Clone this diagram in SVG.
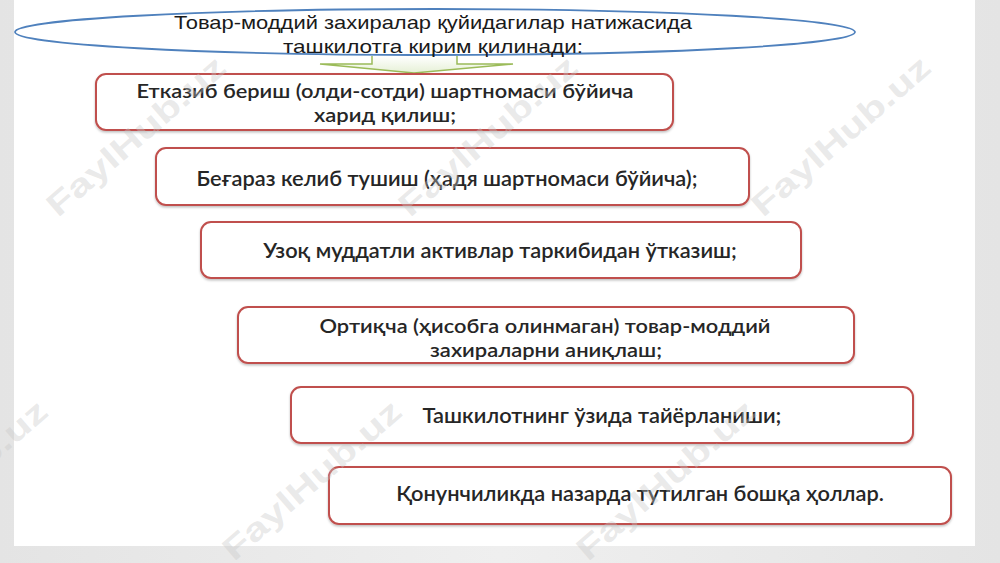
<svg xmlns="http://www.w3.org/2000/svg" width="1000" height="563" viewBox="0 0 1000 563">
<defs>
<linearGradient id="bg" x1="0" y1="0" x2="1" y2="0">
<stop offset="0" stop-color="#e4e4e4"/>
<stop offset="0.5" stop-color="#efefef"/>
<stop offset="1" stop-color="#e4e4e4"/>
</linearGradient>
<linearGradient id="arr" x1="0" y1="0" x2="0" y2="1">
<stop offset="0" stop-color="#ffffff"/>
<stop offset="1" stop-color="#e6f0d6"/>
</linearGradient>
<filter id="sh" x="-5%" y="-20%" width="110%" height="150%">
<feDropShadow dx="0" dy="1.5" stdDeviation="1.2" flood-color="#000" flood-opacity="0.25"/>
</filter>
</defs>
<style>
.box{fill:#ffffff;stroke:#c0504d;stroke-width:2;filter:url(#sh)}
.t{font-family:Lato,"Open Sans",sans-serif;font-size:21.8px;font-weight:600;fill:#262626;text-anchor:middle}
.t2{font-size:19.8px}
.e{font-family:"Liberation Sans",sans-serif;font-size:19px;fill:#1a1a1a;text-anchor:middle}
.wm{font-family:"Liberation Sans",sans-serif;font-weight:bold;font-size:32px;fill:#c8c8c8;fill-opacity:0.4}
</style>
<rect x="0" y="0" width="1000" height="563" fill="url(#bg)"/>
<rect x="14" y="0" width="961" height="546" fill="#ffffff"/>

<g id="connectors">
<path d="M372,56 L372,64 L320,64 L414,73 L513,64 L457,64 L457,56" fill="url(#arr)" stroke="#9bbb59" stroke-width="1.5" stroke-linejoin="miter"/>
</g>

<g id="header">
<ellipse cx="435" cy="32" rx="420" ry="23" fill="none" stroke="#4f81bd" stroke-width="1.8"/>
<text class="e" x="433" y="29" textLength="518" lengthAdjust="spacingAndGlyphs">Товар-моддий захиралар қуйидагилар натижасида</text>
<text class="e" x="433" y="53" textLength="300" lengthAdjust="spacingAndGlyphs">ташкилотга кирим қилинади:</text>
</g>

<g id="n1">
<rect class="box" x="96" y="74" width="577" height="56" rx="10"/>
<text class="t t2" x="385" y="97.5" textLength="497" lengthAdjust="spacingAndGlyphs">Етказиб бериш (олди-сотди) шартномаси бўйича</text>
<text class="t t2" x="385" y="121.5" textLength="142" lengthAdjust="spacingAndGlyphs">харид қилиш;</text>
</g>
<g id="n2">
<rect class="box" x="156" y="148" width="593" height="57" rx="10"/>
<text class="t" x="447" y="186">Беғараз келиб тушиш (ҳадя шартномаси бўйича);</text>
</g>
<g id="n3">
<rect class="box" x="201" y="222" width="600" height="56" rx="10"/>
<text class="t" x="500" y="258">Узоқ муддатли активлар таркибидан ўтказиш;</text>
</g>
<g id="n4">
<rect class="box" x="238" y="307" width="616" height="56" rx="10"/>
<text class="t t2" x="545" y="332.5" textLength="451" lengthAdjust="spacingAndGlyphs">Ортиқча (ҳисобга олинмаган) товар-моддий</text>
<text class="t t2" x="546" y="356.5" textLength="232" lengthAdjust="spacingAndGlyphs">захираларни аниқлаш;</text>
</g>
<g id="n5">
<rect class="box" x="291" y="387" width="622" height="56" rx="10"/>
<text class="t" x="602" y="423">Ташкилотнинг ўзида тайёрланиши;</text>
</g>
<g id="n6">
<rect class="box" x="329" y="467" width="622" height="57" rx="10"/>
<text class="t" x="640" y="501">Қонунчиликда назарда тутилган бошқа ҳоллар.</text>
</g>

<g id="watermarks">
<text class="wm" transform="translate(58,218) rotate(-41)" textLength="225" lengthAdjust="spacingAndGlyphs">FaylHub.uz</text>
<text class="wm" transform="translate(410,218) rotate(-41)" textLength="225" lengthAdjust="spacingAndGlyphs">FaylHub.uz</text>
<text class="wm" transform="translate(763,218) rotate(-41)" textLength="225" lengthAdjust="spacingAndGlyphs">FaylHub.uz</text>
<text class="wm" transform="translate(-120,562) rotate(-41)" textLength="225" lengthAdjust="spacingAndGlyphs">FaylHub.uz</text>
<text class="wm" transform="translate(234,562) rotate(-41)" textLength="225" lengthAdjust="spacingAndGlyphs">FaylHub.uz</text>
<text class="wm" transform="translate(588,562) rotate(-41)" textLength="225" lengthAdjust="spacingAndGlyphs">FaylHub.uz</text>
</g>
</svg>
